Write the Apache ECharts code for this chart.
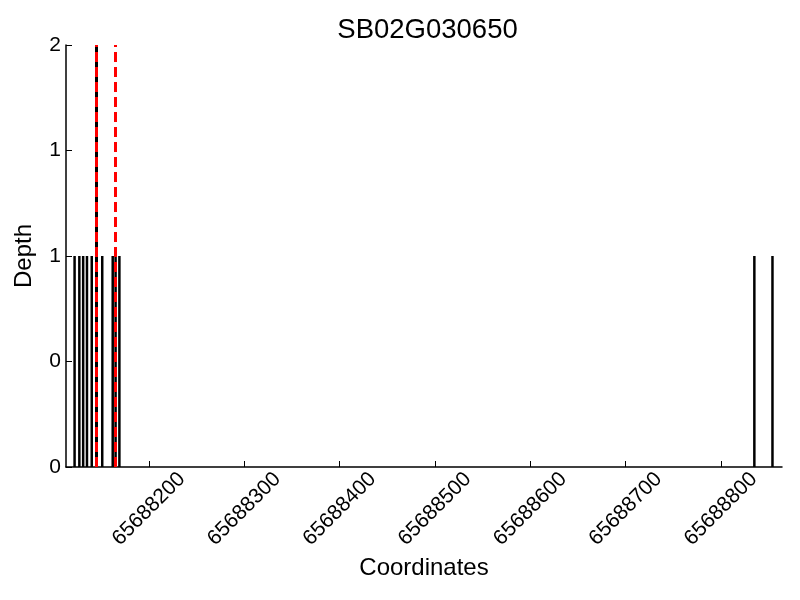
<!DOCTYPE html>
<html>
<head>
<meta charset="utf-8">
<script src="https://cdn.jsdelivr.net/npm/echarts@6/dist/echarts.min.js"></script>
<style>html,body{margin:0;padding:0;background:#fff}#c{width:800px;height:600px}</style>
</head>
<body>
<div id="c"></div>
<script>
const title = "SB02G030650";
const positions = [65688122, 65688127, 65688131, 65688135, 65688140, 65688145, 65688151, 65688162, 65688165, 65688169, 65688835, 65688854];
const depths = [1, 1, 1, 1, 1, 1, 1, 1, 1, 1, 1, 1];
const redLines = [65688145, 65688165];
const blackLines = [65688145];
const xTicks = [65688200, 65688300, 65688400, 65688500, 65688600, 65688700, 65688800];
const yTicks = [0, 0.5, 1, 1.5, 2];

const FONT = "Liberation Sans";
const chart = echarts.init(document.getElementById('c'), null, {renderer: 'canvas'});
chart.setOption({
  animation: false,
  backgroundColor: '#fff',
  title: {
    text: title, left: 422.5, top: 11, textAlign: 'center',
    textStyle: {fontFamily: FONT, fontSize: 27.5, fontWeight: 'normal', color: '#000'}
  },
  grid: {left: 66, right: 18, top: 45, bottom: 133, containLabel: false},
  xAxis: {
    type: 'value', min: 65688113, max: 65688864,
    name: 'Coordinates', nameLocation: 'middle', nameGap: 86,
    nameTextStyle: {fontFamily: FONT, fontSize: 24, color: '#000'},
    axisLine: {show: true, onZero: false, lineStyle: {color: '#000', width: 1.5}},
    axisTick: {show: true, inside: true, length: 6, customValues: xTicks, lineStyle: {color: '#000'}},
    axisLabel: {
      customValues: xTicks, rotate: 45, align: 'center', verticalAlign: 'middle', margin: 42,
      fontFamily: FONT, fontSize: 21, color: '#000',
      formatter: v => String(v)
    },
    splitLine: {show: false}
  },
  yAxis: {
    type: 'value', min: 0, max: 2, interval: 0.5,
    name: 'Depth', nameLocation: 'middle', nameGap: 30,
    nameTextStyle: {fontFamily: FONT, fontSize: 24, color: '#000'},
    axisLine: {show: true, lineStyle: {color: '#000', width: 1.5}},
    axisTick: {show: true, inside: true, length: 6, customValues: yTicks, lineStyle: {color: '#000'}},
    axisLabel: {
      customValues: yTicks, margin: 5, fontFamily: FONT, fontSize: 21, color: '#000',
      formatter: v => String(Math.floor(v))
    },
    splitLine: {show: false}
  },
  series: [
    {
      type: 'bar', barWidth: 2.5, silent: true,
      itemStyle: {color: '#000'},
      data: positions.map((p, i) => [p, depths[i]]),
      markLine: {
        silent: true, symbol: 'none', label: {show: false},
        data: blackLines.map(x => ({xAxis: x, lineStyle: {color: '#000', width: 3, type: 'solid'}}))
      }
    },
    {
      type: 'line', data: [], silent: true,
      markLine: {
        silent: true, symbol: 'none', label: {show: false},
        data: redLines.map(x => ({xAxis: x, lineStyle: {color: '#ff0000', width: 3, type: [10, 5]}}))
      }
    }
  ]
});
</script>
</body>
</html>
